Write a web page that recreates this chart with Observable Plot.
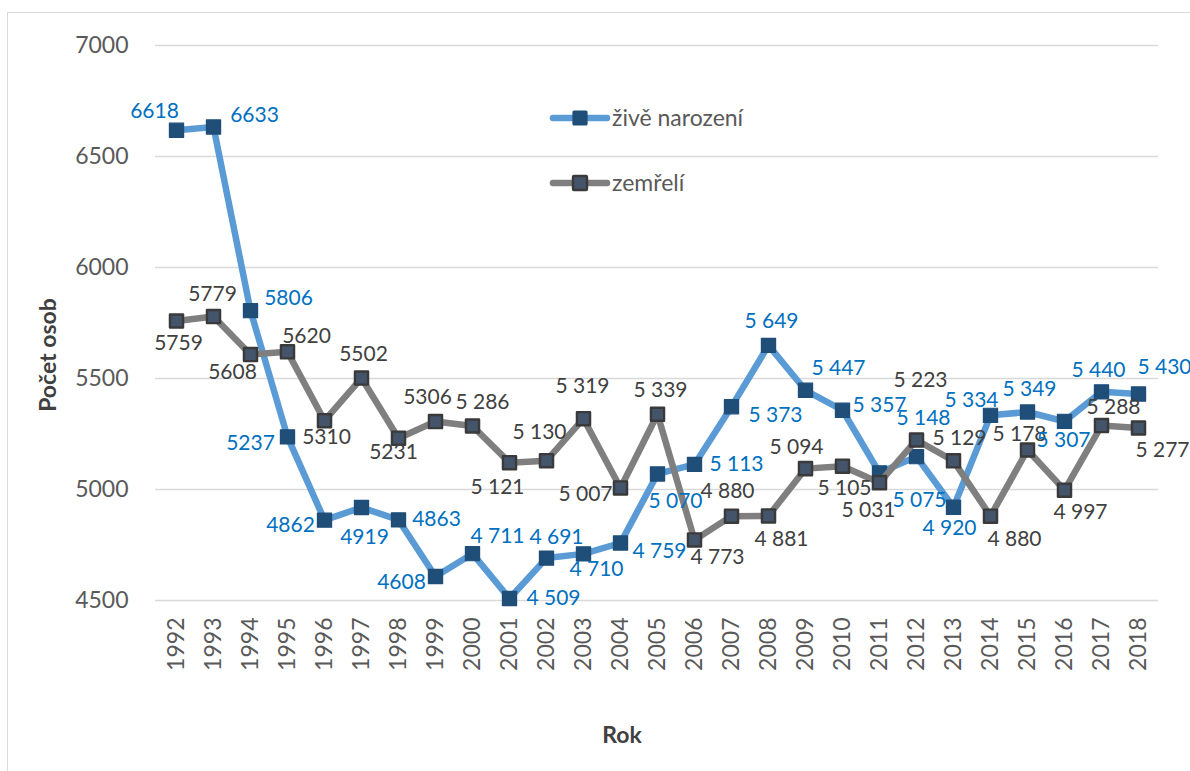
<!DOCTYPE html>
<html><head><meta charset="utf-8">
<script src="https://cdn.jsdelivr.net/npm/d3@7"></script>
<script src="https://cdn.jsdelivr.net/npm/@observablehq/plot@0.6"></script>
<style>
body{margin:0;background:#fff;}
#wrap{position:relative;width:1190px;height:771px;overflow:hidden;background:#fff;}
#frame{position:absolute;left:7px;top:12px;width:1300px;height:900px;border:1.5px solid #d9d9d9;}
#chart{position:absolute;left:0;top:0;}
</style>
</head><body><div id="wrap"><div id="frame"></div><div id="chart"></div></div>
<script>
const years = [1992,1993,1994,1995,1996,1997,1998,1999,2000,2001,2002,2003,2004,2005,2006,2007,2008,2009,2010,2011,2012,2013,2014,2015,2016,2017,2018];
const births = [6618,6633,5806,5237,4862,4919,4863,4608,4711,4509,4691,4710,4759,5070,5113,5373,5649,5447,5357,5075,5148,4920,5334,5349,5307,5440,5430];
const deaths = [5759,5779,5608,5620,5310,5502,5231,5306,5286,5121,5130,5319,5007,5339,4773,4880,4881,5094,5105,5031,5223,5129,4880,5178,4997,5288,5277];
const yTicks = [4500,5000,5500,6000,6500,7000];
const seriesNames = ["živě narození","zemřelí"];
const axisTitles = {y:"Počet osob", x:"Rok"};
// label placement (dx, dy of label centre from marker), a style array
const birthLabelOffsets = [[-22,-19],[41,-12],[38,-12],[-37,6],[-34,5],[3,30],[38,-1],[-34,6],[25,-17],[44,0],[10,-21],[13,15],[39,8],[18,27],[42,0],[44,9],[3,-24],[33,-22],[37,-5],[40,27],[7,-38],[-4,21],[-19,-15],[2,-23],[-1,19],[-3,-22],[26,-27]];
const deathLabelOffsets = [[2,22],[-1,-22],[-18,18],[19,-16],[2,17],[2,-24],[-5,14],[-8,-24],[10,-24],[-12,25],[-7,-28],[-1,-32],[-35,6],[3,-24],[23,17],[-4,-25],[13,23],[-9,-21],[2,22],[-11,28],[4,-60],[6,-23],[24,23],[-8,-16],[16,22],[12,-18],[24,22]];

const colors = {bLine:"#5b9bd5", bMark:"#1f4e79", bText:"#0070c0", dLine:"#7f7f7f", dMark:"#44546a", dMarkStroke:"#3a3a3a", dText:"#404040", axis:"#595959", grid:"#d9d9d9"};
const FONT = "Lato, 'Open Sans', sans-serif";

const rows = years.map((y,i)=>({year:String(y), births:births[i], deaths:deaths[i]}));
const fmt = (v, yr) => yr < 2000 ? String(v) : d3.format(",")(v).replace(/,/g, " ");

const labelMarks = [];
rows.forEach((r,i)=>{
  labelMarks.push(Plot.text([r], {x:"year", y:"births", text:d=>fmt(d.births, +d.year), dx:birthLabelOffsets[i][0], dy:birthLabelOffsets[i][1], fill:colors.bText, fontSize:21}));
  labelMarks.push(Plot.text([r], {x:"year", y:"deaths", text:d=>fmt(d.deaths, +d.year), dx:deathLabelOffsets[i][0], dy:deathLabelOffsets[i][1], fill:colors.dText, fontSize:21}));
});

const plot = Plot.plot({
  width:1190, height:771,
  marginLeft:155, marginRight:32, marginTop:45, marginBottom:171,
  style:{fontFamily:FONT, background:"transparent", overflow:"visible"},
  x:{type:"point", domain:years.map(String), padding:0.5},
  y:{domain:[4500,7000]},
  marks:[
    Plot.gridY(yTicks, {stroke:colors.grid, strokeOpacity:1, strokeWidth:1.5}),
    Plot.axisY(yTicks, {tickSize:0, tickPadding:27, fontSize:23, fill:colors.axis, label:null, tickFormat:d=>String(d)}),
    Plot.axisX({tickSize:0, tickPadding:17, tickRotate:-90, fontSize:23, fill:colors.axis, label:null}),
    Plot.line(rows, {x:"year", y:"births", stroke:colors.bLine, strokeWidth:6.5}),
    Plot.dot(rows, {x:"year", y:"births", symbol:"square", r:8, fill:colors.bMark, stroke:colors.bMark, strokeWidth:1.2, strokeLinejoin:"round"}),
    Plot.line(rows, {x:"year", y:"deaths", stroke:colors.dLine, strokeWidth:6.5}),
    Plot.dot(rows, {x:"year", y:"deaths", symbol:"square", r:7.4, fill:colors.dMark, stroke:colors.dMarkStroke, strokeWidth:2.4, strokeLinejoin:"round"}),
    ...labelMarks,
    Plot.text([axisTitles.y], {frameAnchor:"left", textAnchor:"middle", lineAnchor:"middle", dx:-107, dy:32, rotate:-90, fontWeight:"bold", fontSize:23, fill:"#404040"}),
    Plot.text([axisTitles.x], {frameAnchor:"bottom", textAnchor:"middle", lineAnchor:"middle", dx:-35, dy:135, fontWeight:"bold", fontSize:23, fill:"#404040"})
  ]
});
document.getElementById("chart").appendChild(plot);

// legend inside the plot area
const svg = d3.select(plot);
const lg = svg.append("g").attr("font-family", FONT).attr("text-anchor", "start");
const legendItems = [
  {name:seriesNames[0], line:colors.bLine, fill:colors.bMark, stroke:colors.bMark, sw:1.2, y:118},
  {name:seriesNames[1], line:colors.dLine, fill:colors.dMark, stroke:colors.dMarkStroke, sw:2.4, y:183}
];
legendItems.forEach(it=>{
  lg.append("line").attr("x1",553).attr("x2",607).attr("y1",it.y).attr("y2",it.y)
    .attr("stroke",it.line).attr("stroke-width",6.5).attr("stroke-linecap","round");
  lg.append("rect").attr("x",573).attr("y",it.y-7).attr("width",14).attr("height",14).attr("rx",1)
    .attr("fill",it.fill).attr("stroke",it.stroke).attr("stroke-width",it.sw);
  lg.append("text").attr("x",612).attr("y",it.y).attr("dy","0.35em").attr("font-size",23)
    .attr("text-anchor","start").attr("fill",colors.axis).text(it.name);
});
</script>
</body></html>
